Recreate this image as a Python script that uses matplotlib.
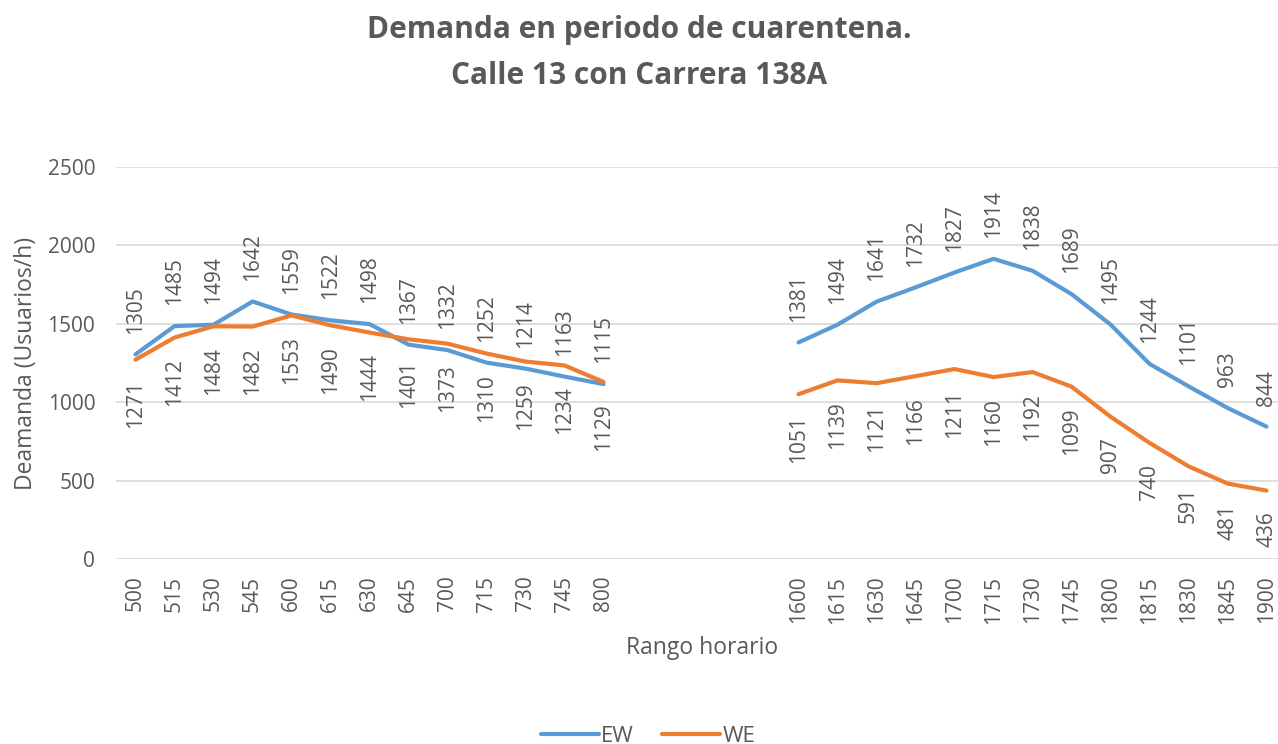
import numpy as np
import matplotlib.pyplot as plt

plt.rcParams['font.family'] = ['Open Sans', 'DejaVu Sans']

# categorias del eje x (4 huecos vacios entre la manana y la tarde)
manana = ['500', '515', '530', '545', '600', '615', '630', '645', '700', '715', '730', '745', '800']
tarde = ['1600', '1615', '1630', '1645', '1700', '1715', '1730', '1745', '1800', '1815', '1830', '1845', '1900']
huecos = 4

ew_manana = [1305, 1485, 1494, 1642, 1559, 1522, 1498, 1367, 1332, 1252, 1214, 1163, 1115]
we_manana = [1271, 1412, 1484, 1482, 1553, 1490, 1444, 1401, 1373, 1310, 1259, 1234, 1129]
ew_tarde = [1381, 1494, 1641, 1732, 1827, 1914, 1838, 1689, 1495, 1244, 1101, 963, 844]
we_tarde = [1051, 1139, 1121, 1166, 1211, 1160, 1192, 1099, 907, 740, 591, 481, 436]

azul = '#5B9BD5'
naranja = '#ED7D31'
gris = '#595959'

etiquetas = manana + [''] * huecos + tarde
x_man = np.arange(len(manana))
x_tar = np.arange(len(tarde)) + len(manana) + huecos

fig = plt.figure(figsize=(12.78, 7.44), dpi=100)
ax = fig.add_axes([0.0908, 0.2487, 0.9155, 0.5269])

ax.plot(x_man, ew_manana, color=azul, lw=3, label='EW', solid_capstyle='round')
ax.plot(x_man, we_manana, color=naranja, lw=3, label='WE', solid_capstyle='round')
ax.plot(x_tar, ew_tarde, color=azul, lw=3, solid_capstyle='round')
ax.plot(x_tar, we_tarde, color=naranja, lw=3, solid_capstyle='round')

# etiquetas de datos
for xs, ys, arriba in [(x_man, ew_manana, True), (x_tar, ew_tarde, True),
                       (x_man, we_manana, False), (x_tar, we_tarde, False)]:
    for xi, yi in zip(xs, ys):
        ax.annotate(str(yi), (xi, yi), xytext=(0, 15 if arriba else -15),
                    textcoords='offset points', rotation=90, ha='center',
                    va='bottom' if arriba else 'top', fontsize=15, color=gris)

ax.set_xlim(-0.5, len(etiquetas) - 0.5)
ax.set_ylim(0, 2500)
ax.set_yticks(range(0, 2501, 500))
ax.set_xticks(range(len(etiquetas)))
ax.set_xticklabels(etiquetas, rotation=90)
ax.tick_params(axis='both', length=0, labelsize=15, labelcolor=gris)
ax.tick_params(axis='y', pad=15)
ax.tick_params(axis='x', pad=12)
ax.grid(axis='y', color='#D9D9D9', lw=1.2)
ax.set_axisbelow(True)
for s in ax.spines.values():
    s.set_visible(False)

fig.text(0.02, 0.512, 'Deamanda (Usuarios/h)', rotation=90, ha='center', va='center',
         fontsize=16.5, color=gris)
fig.text(0.549, 0.129, 'Rango horario', ha='center', va='center', fontsize=16.5, color=gris)

fig.text(0.5, 1 - 30 / 744, 'Demanda en periodo de cuarentena.', ha='center', va='center',
         fontsize=21.5, fontweight='bold', color=gris)
fig.text(0.5, 1 - 76 / 744, 'Calle 13 con Carrera 138A', ha='center', va='center',
         fontsize=21.5, fontweight='bold', color=gris)

fig.legend(loc='center', bbox_to_anchor=(0.507, 1 - 736 / 744), ncol=2, frameon=False,
           fontsize=16, labelcolor=gris, handlelength=2.6, handletextpad=0.1,
           columnspacing=1.3)

fig.savefig('out.png', dpi=100)
